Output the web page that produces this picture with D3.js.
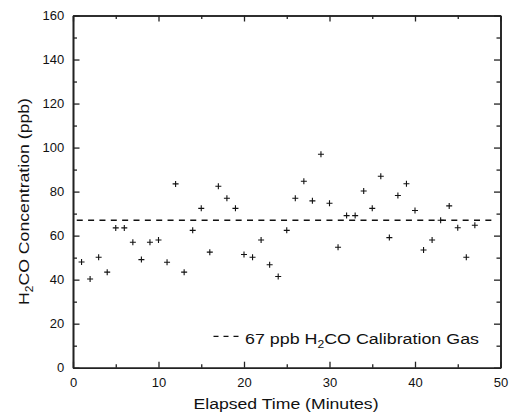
<!DOCTYPE html>
<html>
<head>
<meta charset="utf-8">
<script src="https://cdn.jsdelivr.net/npm/d3@7"></script>
<style>
  html, body { margin: 0; padding: 0; background: #fff; }
  svg { display: block; font-family: Arial, "Liberation Sans", Helvetica, sans-serif; }
</style>
</head>
<body>
<svg id="chart" width="513" height="416"></svg>
<script>
// ---- data ----
const minutes = [1,2,3,4,5,6,7,8,9,10,11,12,13,14,15,16,17,18,19,20,21,22,23,24,25,26,27,28,29,30,31,32,33,34,35,36,37,38,39,40,41,42,43,44,45,46,47];
const concentration = [48.0,40.3,50.2,43.4,63.5,63.5,57.0,49.1,57.0,58.0,47.9,83.5,43.4,62.4,72.4,52.5,82.4,77.0,72.4,51.4,50.2,58.0,46.8,41.4,62.4,77.0,84.7,75.8,97.0,74.7,54.7,69.1,69.1,80.3,72.4,87.0,59.1,78.2,83.6,71.4,53.5,58.0,67.0,73.5,63.6,50.2,64.7];
const calibrationValue = [67];
const xMajorTicks = [0,10,20,30,40,50];
const xMinorTicks = [5,15,25,35,45];
const yMajorTicks = [0,20,40,60,80,100,120,140,160];
const yMinorTicks = [10,30,50,70,90,110,130,150];
const xDomain = [0,50];
const yDomain = [0,160];

// ---- layout ----
const L = 73, R = 500.5, T = 15.5, B = 367.7;
const svg = d3.select("#chart");
const x = d3.scaleLinear().domain(xDomain).range([L, R]);
const y = d3.scaleLinear().domain(yDomain).range([B, T]);
const axisColor = "#222";

function styleAxis(g) {
  g.selectAll(".domain").attr("stroke", axisColor).attr("stroke-width", 1.6);
  g.selectAll(".tick line").attr("stroke", axisColor).attr("stroke-width", 1.3);
  g.selectAll("text").attr("fill", "#111").attr("font-size", 13)
    .attr("font-family", "Arial, 'Liberation Sans', sans-serif");
}

// bottom
svg.append("g").attr("transform", `translate(0,${B})`)
  .call(d3.axisBottom(x).tickValues(xMajorTicks).tickFormat(d3.format("d")).tickSize(-6).tickSizeOuter(0).tickPadding(10.5))
  .call(styleAxis);
svg.append("g").attr("transform", `translate(0,${B})`)
  .call(d3.axisBottom(x).tickValues(xMinorTicks).tickFormat("").tickSize(-3.5).tickSizeOuter(0))
  .call(styleAxis);
// top
svg.append("g").attr("transform", `translate(0,${T})`)
  .call(d3.axisTop(x).tickValues(xMajorTicks).tickFormat("").tickSize(-6).tickSizeOuter(0))
  .call(styleAxis);
svg.append("g").attr("transform", `translate(0,${T})`)
  .call(d3.axisTop(x).tickValues(xMinorTicks).tickFormat("").tickSize(-3.5).tickSizeOuter(0))
  .call(styleAxis);
// left
svg.append("g").attr("transform", `translate(${L},0)`)
  .call(d3.axisLeft(y).tickValues(yMajorTicks).tickFormat(d3.format("d")).tickSize(-6.5).tickSizeOuter(0).tickPadding(8.7))
  .call(styleAxis);
svg.append("g").attr("transform", `translate(${L},0)`)
  .call(d3.axisLeft(y).tickValues(yMinorTicks).tickFormat("").tickSize(-4).tickSizeOuter(0))
  .call(styleAxis);
// right
svg.append("g").attr("transform", `translate(${R},0)`)
  .call(d3.axisRight(y).tickValues(yMajorTicks).tickFormat("").tickSize(-6.5).tickSizeOuter(0))
  .call(styleAxis);
svg.append("g").attr("transform", `translate(${R},0)`)
  .call(d3.axisRight(y).tickValues(yMinorTicks).tickFormat("").tickSize(-4).tickSizeOuter(0))
  .call(styleAxis);

// calibration dashed line
svg.append("g").selectAll("line.cal").data(calibrationValue).enter().append("line")
  .attr("x1", x(xDomain[0])).attr("x2", x(xDomain[1]) - 7)
  .attr("y1", d => y(d)).attr("y2", d => y(d))
  .attr("stroke", "#111").attr("stroke-width", 1.4)
  .attr("stroke-dasharray", "6,5.35").attr("stroke-dashoffset", 7.6);

// points (plus markers)
const pts = minutes.map((m, i) => ({ m, v: concentration[i] }));
const ps = 3;
const gp = svg.append("g").attr("stroke", "#111").attr("stroke-width", 1.1);
gp.selectAll("path").data(pts).enter().append("path")
  .attr("d", d => {
    const cx = x(d.m), cy = y(d.v);
    return `M${cx - ps},${cy}H${cx + ps}M${cx},${cy - ps}V${cy + ps}`;
  });

// legend
svg.append("line").attr("x1", 213.5).attr("x2", 239).attr("y1", 336.3).attr("y2", 336.3)
  .attr("stroke", "#111").attr("stroke-width", 1.3).attr("stroke-dasharray", "5,5");
const lt = svg.append("text").attr("x", 245).attr("y", 343.5)
  .attr("font-size", 15.5).attr("fill", "#111")
  .attr("textLength", 234).attr("lengthAdjust", "spacingAndGlyphs");
lt.append("tspan").text("67 ppb H");
lt.append("tspan").attr("font-size", 10.5).attr("dy", 4).text("2");
lt.append("tspan").attr("dy", -4).text("CO Calibration Gas");

// x-axis title
svg.append("text").attr("x", 286).attr("y", 409).attr("text-anchor", "middle")
  .attr("font-size", 15.5).attr("fill", "#111")
  .attr("textLength", 185).attr("lengthAdjust", "spacingAndGlyphs")
  .text("Elapsed Time (Minutes)");

// y-axis title
const yt = svg.append("text").attr("transform", "translate(28.5,201.5) rotate(-90)")
  .attr("text-anchor", "middle").attr("font-size", 15.5).attr("fill", "#111")
  .attr("textLength", 207).attr("lengthAdjust", "spacingAndGlyphs");
yt.append("tspan").text("H");
yt.append("tspan").attr("font-size", 10.5).attr("dy", 4).text("2");
yt.append("tspan").attr("dy", -4).text("CO Concentration (ppb)");
</script>
</body>
</html>
